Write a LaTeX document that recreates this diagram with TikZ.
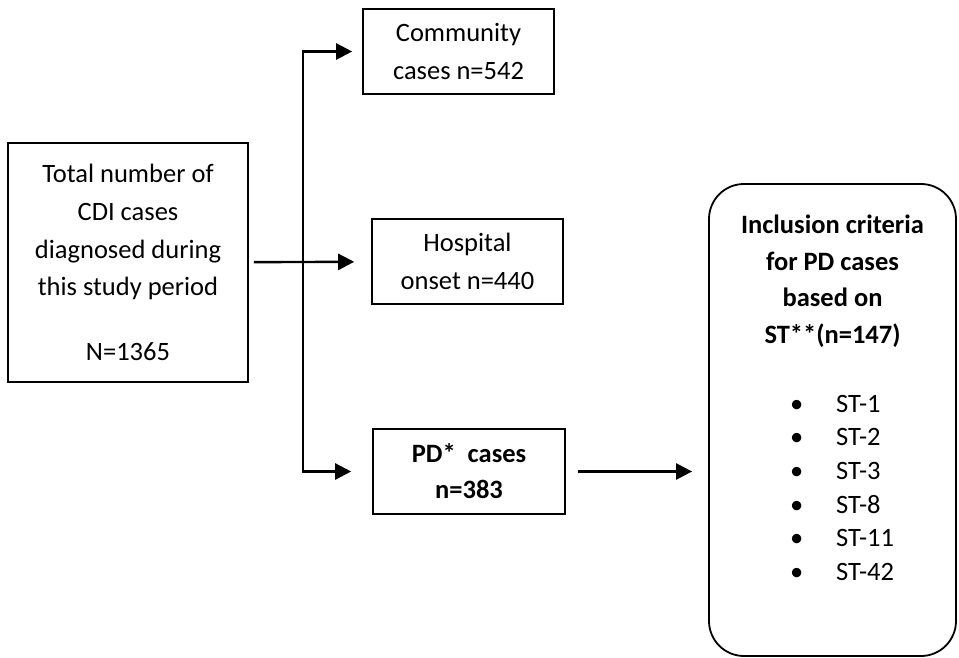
\documentclass[tikz,border=0pt]{standalone}
\usepackage{fontspec}
\setmainfont{Carlito}
\usetikzlibrary{arrows.meta, positioning, calc}

\begin{document}
\begin{tikzpicture}[x=1pt, y=-1pt,
  box/.style={draw, line width=1.6pt, align=center, inner sep=0pt, font=\fontsize{26.5}{37.7}\selectfont},
  arr/.style={line width=2.4pt, -{Triangle[length=16pt,width=16pt]}}]
\useasboundingbox (0,0) rectangle (959,658);
\node[box, minimum width=240pt, minimum height=239pt] (total) at (128,262.5) {Total number of\\CDI cases\\diagnosed during\\this study period\\[27pt]N=1365};
\node[box, minimum width=191pt, minimum height=85pt] (comm) at (458.5,51.5) {Community\\cases n=542};
\node[box, minimum width=191pt, minimum height=85pt] (hosp) at (467.5,261.5) {Hospital\\onset n=440};
\node[box, minimum width=192pt, minimum height=85pt, font=\fontsize{26.5}{36}\selectfont\bfseries] (pd) at (469,471.5) {PD*\ \ cases\\n=383};
\node[draw, line width=1.8pt, rounded corners=35pt, inner sep=0pt] (crit) at (832.5,420) {%
  \begin{minipage}[c][472pt][t]{247pt}\centering
  \vspace*{31pt}
  {\bfseries\fontsize{26.5}{36.7}\selectfont Inclusion criteria\\for PD cases\\based on\\ST**(n=147)\par}
  \vspace{40pt}
  {\fontsize{26.5}{33.6}\selectfont\hspace*{19pt}\begin{tabular}{@{}l@{\hspace{33pt}}l@{}}
  \textbullet & ST-1\\
  \textbullet & ST-2\\
  \textbullet & ST-3\\
  \textbullet & ST-8\\
  \textbullet & ST-11\\
  \textbullet & ST-42
  \end{tabular}\par}
  \end{minipage}};
\coordinate (split) at (303,262.5);
\draw[arr, shorten <=5pt, shorten >=17pt] (total) -- (hosp);
\draw[arr, shorten >=10pt] (split) |- (comm);
\draw[arr, shorten >=21pt] (split) |- (pd);
\draw[arr, shorten <=12pt, shorten >=16pt] (pd) -- (pd -| crit.west);
\end{tikzpicture}
\end{document}
